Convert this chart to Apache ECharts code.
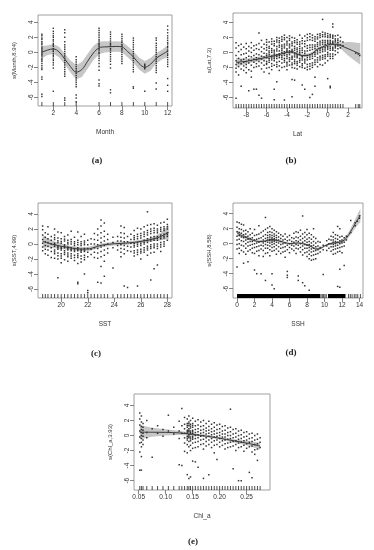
<!DOCTYPE html>
<html><head><meta charset="utf-8">
<script src="https://cdn.jsdelivr.net/npm/echarts@6/dist/echarts.min.js"></script>
<style>html,body{margin:0;padding:0;background:#fff}#c{width:374px;height:550px}</style>
</head><body><div id="c"></div>
<script>
// ---------- (a) Month ----------
const monthCols = [1,2,3,4,6,7,8,9,10,11,12];
const monthVals = [
 [2.4,2.2,1.9,1.7,1.4,1.2,1.0,0.7,0.5,0.3,0.1,-0.1,-0.3,-0.5,-0.8,-1.0,-1.2,-1.5,-1.8,-2.1,-2.3,-3.3,-3.6,-5.6,-5.9],
 [3.2,2.8,2.5,2.2,2.0,1.7,1.5,1.2,1.0,0.8,0.5,0.3,0.1,-0.2,-0.4,-0.6,-0.9,-1.1,-1.4,-1.7,-2.1,-5.2],
 [3.0,2.6,2.0,1.4,1.0,0.7,0.4,0.1,-0.2,-0.5,-0.8,-1.1,-1.4,-1.7,-2.0,-2.3,-2.6,-2.9,-3.2,-6.1,-6.4],
 [-0.6,-1.0,-1.3,-1.6,-1.9,-2.2,-2.5,-2.8,-3.1,-3.4,-3.7,-4.0,-4.3,-4.6,-5.7,-6.1,-6.6],
 [3.2,2.9,2.6,2.3,2.0,1.7,1.5,1.2,1.0,0.8,0.5,0.3,0.0,-0.2,-0.5,-0.8,-1.1,-1.5,-1.9,-2.4,-3.7,-4.2,-4.5],
 [2.7,2.4,2.1,1.8,1.5,1.2,1.0,0.8,0.5,0.3,0.0,-0.3,-0.6,-0.9,-1.2,-1.6,-2.1,-5.0,-5.4],
 [2.4,2.1,1.8,1.5,1.3,1.0,0.8,0.5,0.3,0.0,-0.3,-0.6,-0.9,-1.2,-1.5],
 [1.9,1.6,1.3,1.0,0.7,0.4,0.1,-0.2,-0.5,-0.8,-1.1,-1.4,-1.7,-2.0,-2.3,-2.6,-4.6,-4.8],
 [-1.6,-1.8,-2.0,-2.2,-5.2],
 [1.9,1.6,1.2,0.9,0.6,0.3,0.0,-0.3,-0.6,-0.9,-1.2,-1.5,-1.8,-2.1,-2.4,-2.7,-4.1,-4.9],
 [3.5,3.0,2.6,2.2,1.9,1.6,1.3,1.1,0.8,0.6,0.3,0.1,-0.2,-0.4,-0.7,-1.0,-1.3,-1.6,-1.9,-3.5,-4.4,-5.2]
];
const monthFitX = [1,1.5,2,2.5,3,3.5,4,4.5,5,5.5,6,6.5,7,7.5,8,8.5,9,9.5,10,10.5,11,11.5,12];
const monthFit  = [0.0,0.3,0.45,0.05,-0.9,-1.9,-2.65,-2.3,-1.2,-0.1,0.6,0.72,0.75,0.78,0.72,0.1,-0.6,-1.5,-2.0,-1.6,-0.8,-0.3,0.15];
const monthSe   = [0.8,0.65,0.65,0.7,0.7,0.8,0.95,1.0,1.0,0.95,0.85,0.75,0.7,0.7,0.7,0.75,0.75,0.8,0.85,0.85,0.7,0.65,0.8];
const monthTicks = [2,4,6,8,10,12];

// ---------- (b) Lat ----------
const latCols = [-9,-8.75,-8.5,-8.25,-8,-7.75,-7.5,-7.25,-7,-6.75,-6.5,-6.25,-6,-5.75,-5.5,-5.25,-5,-4.75,-4.5,-4.25,-4,-3.75,-3.5,-3.25,-3,-2.75,-2.5,-2.25,-2,-1.75,-1.5,-1.25,-1,-0.75,-0.5,-0.25,0,0.25,0.5,0.75,1,1.25,1.5,2.75,3,3.15];
const latVals = [
 [1.3,0.6,-0.4,-1.1,-1.6,-2.1,-2.6,-6.1],
 [0.9,0.1,-0.8,-1.4,-1.9,-3.0],
 [1.1,0.4,-0.3,-1.0,-1.5,-2.2,-4.5],
 [0.7,-0.2,-0.9,-1.3,-1.8,-2.4],
 [1.2,0.5,-0.1,-0.7,-1.2,-1.6,-2.0,-2.7],
 [0.8,0.2,-0.5,-1.0,-1.4,-2.3,-5.1],
 [1.3,0.6,0.0,-0.6,-1.1,-1.7,-2.5,-3.3],
 [0.9,0.3,-0.4,-0.9,-1.3,-2.0,-4.9],
 [1.0,0.5,-0.2,-0.7,-1.0,-1.5,-1.9,-4.9],
 [2.6,1.2,0.4,-0.3,-0.8,-1.2,-1.8,-5.7],
 [1.6,0.7,0.1,-0.5,-0.9,-1.4,-2.2,-6.1],
 [1.1,0.5,-0.1,-0.6,-1.1,-1.7,-2.6],
 [1.7,1.35,1.0,0.65,0.3,-0.2,-0.45,-0.7,-1.2,-1.45,-1.6,-2.1],
 [1.4,0.8,0.55,0.2,-0.05,-0.3,-0.8,-1.05,-1.3,-2.0,-2.8],
 [1.8,1.45,1.1,0.5,0.25,0.0,-0.5,-0.75,-1.0,-1.5,-1.85,-2.3],
 [1.5,1.15,0.9,0.3,0.05,-0.2,-0.6,-0.85,-1.1,-1.7,-4.9,-6.3],
 [2.0,1.65,1.4,0.8,0.45,0.2,-0.3,-0.55,-0.8,-1.3,-1.6,-1.9,-3.9],
 [1.9,1.55,1.3,0.95,0.7,0.2,-0.2,-0.45,-0.7,-1.2,-1.8,-2.4],
 [2.1,1.75,1.5,1.0,0.75,0.5,0.25,0.0,-0.4,-0.65,-0.9,-1.4,-2.0],
 [2.3,1.95,1.7,1.1,0.85,0.6,0.1,-0.15,-0.4,-0.8,-1.05,-1.3,-1.9,-6.35],
 [2.0,1.5,1.25,1.0,0.5,0.3,0.1,-0.3,-0.55,-0.8,-1.3,-1.55,-1.8,-2.3],
 [2.2,1.85,1.6,1.1,0.85,0.6,0.2,-0.05,-0.3,-0.7,-0.95,-1.2,-1.7],
 [2.0,1.4,1.15,0.9,0.4,0.2,0.0,-0.5,-0.7,-0.9,-1.4,-1.65,-2.0,-3.6,-5.9],
 [1.9,1.55,1.3,0.8,0.55,0.3,-0.1,-0.35,-0.6,-1.0,-1.25,-1.5,-2.1,-3.7],
 [1.7,1.35,1.1,0.6,0.35,0.1,-0.3,-0.5,-0.7,-1.2,-1.45,-1.7,-2.2],
 [2.3,1.4,1.1,0.8,0.5,0.2,-0.05,-0.3,-0.8,-1.05,-1.3,-1.9],
 [1.9,1.55,1.2,0.6,0.3,0.0,-0.5,-0.75,-1.0,-1.5,-1.75,-2.0,-4.35],
 [2.2,1.5,1.15,0.8,0.2,-0.1,-0.4,-0.9,-1.15,-1.4,-2.1,-4.9],
 [2.4,1.95,1.6,0.9,0.55,0.2,-0.4,-0.7,-1.0,-1.6,-1.95,-2.3],
 [2.5,2.1,1.7,1.0,0.65,0.3,-0.3,-0.6,-0.9,-1.5,-1.85,-2.2,-6.0],
 [2.3,1.95,1.6,1.0,0.7,0.4,-0.2,-0.5,-0.8,-1.4,-1.7,-2.0,-5.6],
 [2.1,1.8,1.5,1.0,0.75,0.5,0.0,-0.25,-0.5,-1.0,-1.3,-1.6,-3.3,-4.5],
 [2.4,2.05,1.8,1.3,1.05,0.8,0.3,0.05,-0.2,-0.7,-1.0,-1.3,-1.9],
 [2.5,2.25,2.0,1.5,1.25,1.0,0.5,0.25,0.0,-0.5,-0.75,-1.0,-1.6],
 [2.7,2.35,2.1,1.6,1.35,1.1,0.6,0.35,0.1,-0.4,-0.65,-0.9,-1.7,4.4],
 [2.6,2.35,2.1,1.6,1.35,1.1,0.7,0.45,0.2,-0.3,-0.55,-0.8,-1.4],
 [2.5,2.2,2.0,1.6,1.4,1.2,0.8,0.6,0.4,0.0,-0.25,-0.5,-1.1,-3.5],
 [2.4,2.2,2.0,1.6,1.4,1.2,0.8,0.55,0.3,-0.2,-0.5,-0.8,-4.5,-4.7],
 [2.3,2.1,1.9,1.5,1.3,1.1,0.7,0.5,0.3,-0.2,-0.5,-0.8,3.8,3.4],
 [2.2,1.8,1.6,1.4,1.0,0.8,0.6,0.2,-0.3],
 [2.3,1.8,1.55,1.3,0.9,0.5,0.0],
 [2.0,1.5,1.0,0.6],
 [1.4,0.9],
 [-0.1],[-0.2],[-0.4]
];
const latFitX = [-9,-8.5,-8,-7.5,-7,-6.5,-6,-5.5,-5,-4.5,-4,-3.5,-3,-2.5,-2,-1.5,-1,-0.5,0,0.5,1,1.5,2,2.5,3,3.2];
const latFit  = [-1.33,-1.25,-1.2,-1.05,-0.93,-0.8,-0.67,-0.5,-0.36,-0.18,0.0,0.08,-0.2,-0.42,-0.4,-0.13,0.44,0.75,1.0,1.1,1.05,0.78,0.5,0.2,-0.1,-0.2];
const latSe   = [0.6,0.45,0.35,0.3,0.3,0.28,0.25,0.25,0.22,0.2,0.2,0.2,0.2,0.22,0.22,0.22,0.2,0.2,0.2,0.22,0.3,0.55,0.9,1.15,1.35,1.45];
const latTicks = [-8,-6,-4,-2,0,2];

// ---------- (c) SST ----------
const sstCols = [18.6,18.8,19,19.25,19.5,19.75,20,20.25,20.5,20.75,21,21.25,21.5,21.75,22,22.25,22.5,22.75,23,23.25,23.5,23.9,24.25,24.5,24.75,25,25.25,25.5,25.75,26,26.25,26.5,26.75,27,27.25,27.5,27.75,28];
const sstVals = [
 [2.4,1.9,1.2,0.6,0.1,-0.4,-0.9],
 [1.5,0.9,0.3,-0.2,-0.7,-1.3],
 [2.3,1.3,0.7,0.2,-0.3,-0.8,-1.5],
 [1.0,0.5,0.0,-0.5,-1.0,-1.8],
 [2.0,1.2,0.85,0.6,0.1,-0.1,-0.3,-0.8,-1.05,-1.3,-1.9],
 [1.6,0.8,0.45,0.2,-0.3,-0.5,-0.7,-1.2,-1.55,-2.0,-4.5],
 [1.5,0.7,0.35,0.1,-0.4,-0.6,-0.8,-1.3,-1.6,-1.9,-2.5],
 [1.0,0.65,0.4,-0.1,-0.3,-0.5,-0.9,-1.15,-1.4,-2.1],
 [1.2,0.5,0.2,0.0,-0.4,-0.6,-0.8,-1.2,-1.45,-1.7,-2.3],
 [1.7,0.6,0.3,0.0,-0.5,-0.7,-0.9,-1.3,-1.6,-1.9],
 [0.9,0.3,0.05,-0.2,-0.6,-0.8,-1.0,-1.5,-1.8,-2.2],
 [1.6,0.5,0.2,-0.1,-0.5,-0.7,-0.9,-1.3,-1.55,-1.8,-2.6,-5.1,-5.3],
 [1.0,0.3,0.05,-0.2,-0.7,-0.9,-1.1,-1.6,-1.95,-2.4],
 [1.3,0.4,0.15,-0.1,-0.6,-0.8,-1.0,-1.5,-1.8,-2.1,-4.0],
 [0.5,-0.1,-0.6,-1.1,-1.7,-6.2,-6.5],
 [0.7,0.0,-0.7,-1.4],
 [1.4,0.6,0.0,-0.5,-1.1,-1.8],
 [2.0,1.2,0.5,-0.1,-0.6,-1.2,-1.9,-5.1],
 [3.2,2.4,1.5,0.8,0.2,-0.4,-1.0,-1.7,-3.0,-5.2],
 [2.8,1.7,1.0,0.4,-0.2,-0.8,-1.5,-2.3,-4.3],
 [1.3,0.6,0.0,-0.6,-1.2],
 [0.9,0.2,-0.5,-3.2],
 [1.0,0.4,-0.2,-0.8],
 [2.4,1.5,0.9,0.4,-0.1,-0.6,-1.1,-1.7],
 [2.2,1.4,0.8,0.3,-0.2,-0.7,-1.3,-5.6],
 [1.0,0.3,-0.3,-0.9,-5.8],
 [1.3,0.6,0.1,-0.4,-1.0],
 [1.8,1.1,0.85,0.6,0.1,-0.15,-0.4,-0.9,-1.2,-1.6],
 [2.1,1.3,1.0,0.7,0.2,-0.05,-0.3,-0.8,-1.1,-1.4,-5.6],
 [2.0,1.4,1.1,0.8,0.3,0.05,-0.2,-0.7,-0.95,-1.2,-2.0],
 [2.3,1.6,1.3,1.0,0.5,0.25,0.0,-0.5,-0.8,-1.1],
 [2.5,1.8,1.5,1.2,0.7,0.45,0.2,-0.3,-0.55,-0.8,-1.5,4.3],
 [2.6,2.0,1.7,1.4,0.9,0.65,0.4,-0.1,-0.35,-0.6,-1.2,-4.8],
 [2.7,2.1,1.8,1.5,1.0,0.75,0.5,0.0,-0.25,-0.5,-1.1,-3.3],
 [2.5,2.0,1.75,1.5,1.0,0.75,0.5,0.0,-0.3,-0.6,-2.8],
 [2.8,2.2,1.95,1.7,1.2,0.95,0.7,0.2,-0.1,-0.4,-1.0],
 [2.9,2.3,2.05,1.8,1.3,1.05,0.8,0.3,0.0,-0.3],
 [3.3,2.6,2.3,2.0,1.5,1.25,1.0,0.5]
];
const sstFitX = [18.6,19,19.5,20,20.5,21,21.5,22,22.5,23,23.5,24,24.5,25,25.5,26,26.5,27,27.5,28,28.1];
const sstFit  = [0.35,0.13,-0.1,-0.3,-0.45,-0.6,-0.67,-0.67,-0.45,-0.18,-0.05,0.04,0.08,0.13,0.22,0.35,0.5,0.7,1.0,1.47,1.55];
const sstSe   = [0.85,0.6,0.45,0.35,0.3,0.28,0.28,0.28,0.28,0.25,0.25,0.25,0.25,0.22,0.22,0.22,0.25,0.3,0.5,0.85,0.9];
const sstTicks = [20,22,24,26,28];

// ---------- (d) SSH ----------
const sshCols = [0,0.25,0.5,0.75,1,1.25,1.5,1.75,2,2.25,2.5,2.75,3,3.25,3.5,3.75,4,4.25,4.5,4.75,5,5.25,5.5,5.75,6,6.25,6.5,6.75,7,7.25,7.5,7.75,8,8.25,8.5,8.75,9,9.25,9.5,9.85,10.25,10.5,10.75,11,11.25,11.5,11.75,12,12.25,12.5,13,13.5,13.75,14];
const sshVals = [
 [2.9,2.2,1.6,1.0,0.5,-0.1,-0.7,-3.1],
 [2.8,2.0,1.5,1.1,0.6,0.0,-0.6,-1.3],
 [2.6,1.9,1.4,0.9,0.4,-0.2,-0.9],
 [2.5,1.7,1.2,0.8,0.3,-0.3,-1.1,-2.6],
 [1.8,1.3,0.9,0.5,0.0,-0.6,-1.4],
 [1.6,1.0,0.6,0.2,-0.3,-1.0,-2.4],
 [2.0,1.2,0.7,0.3,-0.2,-0.8],
 [1.4,0.8,0.3,-0.1,-0.6,-1.2],
 [1.9,1.1,0.5,0.0,-0.5,-1.3,-3.5],
 [1.2,0.6,0.1,-0.4,-1.0,-4.0],
 [2.4,1.3,0.7,0.2,-0.3,-0.9,-1.6],
 [1.5,0.8,0.3,-0.2,-0.7,-4.0],
 [1.7,1.0,0.5,0.1,-0.3,-0.9,-1.7],
 [3.5,1.9,1.2,0.7,0.3,-0.1,-0.6,-1.3,-4.9],
 [2.1,1.5,1.1,0.8,0.5,0.2,-0.2,-0.6,-1.2],
 [2.3,1.6,1.2,0.9,0.6,0.4,0.1,-0.3,-0.8,-1.6],
 [2.0,1.5,1.1,0.8,0.6,0.4,0.2,-0.1,-0.5,-1.0,-4.0,-5.5],
 [1.8,1.3,1.0,0.7,0.5,0.3,0.0,-0.4,-0.9,-6.0],
 [1.6,1.1,0.8,0.5,0.2,-0.2,-0.7,-1.4],
 [1.4,0.9,0.5,0.1,-0.4,-1.0],
 [1.2,0.7,0.3,-0.1,-0.6,-1.3],
 [1.0,0.5,0.0,-0.5,-1.1],
 [1.3,0.6,0.1,-0.4,-1.0,-1.8],
 [0.9,0.4,-0.2,-0.8,-3.7,-4.2,-4.5],
 [1.1,0.5,0.0,-0.5,-1.2],
 [0.8,0.3,-0.2,-0.7],
 [1.4,0.7,0.2,-0.3,-0.9],
 [1.6,0.9,0.4,-0.1,-0.6,-1.3],
 [1.5,0.8,0.3,-0.2,-0.7,-4.3,-4.9],
 [1.8,1.0,0.5,0.0,-0.5,-1.1],
 [3.7,1.3,0.7,0.2,-0.3,-0.8,-1.5,-5.2],
 [1.5,0.9,0.4,-0.1,-0.6,-1.2,-5.6],
 [1.9,1.2,0.6,0.2,-0.2,-0.6,-1.1,-1.7],
 [1.4,0.8,0.3,-0.1,-0.5,-0.9,-1.4,-2.0,-6.2],
 [1.2,0.6,0.1,-0.3,-0.7,-1.1,-1.6,-2.2],
 [2.0,0.9,0.3,-0.2,-0.6,-1.0,-1.5,-2.1],
 [0.7,0.1,-0.4,-0.9,-1.4,-2.0],
 [0.3,-0.3,-0.8,-1.3],
 [0.2,-0.5,-1.1],
 [-0.2,-0.8,-4.1],
 [0.4,-0.3,-0.9],
 [0.6,0.0,-0.6],
 [1.0,0.5,0.0,-0.4,-1.0],
 [1.5,0.9,0.5,0.2,-0.1,-0.4,-0.8,-1.4],
 [1.2,0.7,0.3,0.0,-0.3,-0.7,-1.3],
 [2.3,1.1,0.6,0.2,-0.2,-0.6,-1.1,-5.7],
 [2.0,0.9,0.4,0.0,-0.5,-1.0,-3.4,-5.8],
 [1.0,0.5,0.1,-0.4,-1.2],
 [0.8,0.2,-0.3,-2.9],
 [1.0,0.5],
 [1.5,3.1],
 [2.4,2.8],
 [3.0],
 [3.4,3.7]
];
const sshFitX = [0,0.5,1,1.5,2,2.5,3,3.5,4,4.5,5,5.5,6,6.5,7,7.5,8,8.5,9,9.5,10,10.5,11,11.5,12,12.5,13,13.5,14,14.1];
const sshFit  = [1.44,1.1,0.85,0.6,0.4,0.3,0.3,0.45,0.55,0.45,0.3,0.15,0.0,0.05,0.1,0.0,-0.13,-0.4,-0.7,-0.65,-0.3,-0.05,0.1,0.15,0.3,0.75,1.65,2.65,3.6,3.75];
const sshSe   = [0.35,0.25,0.2,0.15,0.15,0.12,0.12,0.12,0.12,0.12,0.12,0.12,0.12,0.12,0.12,0.12,0.12,0.15,0.15,0.15,0.15,0.15,0.15,0.15,0.2,0.3,0.45,0.6,0.85,0.95];
const sshRugRanges = [[0,9.5],[10.4,12.4]];
const sshRugSparse = [9.6,9.75,9.9,10.05,10.2,12.75,12.95,13.15,13.4,13.6,13.8,14.1];
const sshTicks = [0,2,4,6,8,10,12,14];

// ---------- (e) Chl_a ----------
const chlCols = [0.052,0.055,0.058,0.065,0.075,0.085,0.095,0.105,0.115,0.125,0.13,0.135,0.14,0.143,0.146,0.15,0.155,0.16,0.165,0.17,0.175,0.18,0.185,0.19,0.195,0.2,0.205,0.21,0.215,0.22,0.225,0.23,0.235,0.24,0.245,0.25,0.255,0.26,0.265,0.27,0.275];
const chlVals = [
 [3.0,2.2,1.4,0.6,-0.2,-1.0,-2.2,-4.6],
 [2.6,1.8,1.2,0.8,0.4,0.0,-0.4,-0.9,-1.5,-2.8,-4.6],
 [1.6,1.1,0.7,0.3,-0.1,-0.6,-1.2],
 [2.0,0.4,-0.3],
 [0.9,-2.9],
 [1.3,0.3],
 [0.8,-0.1],
 [2.7,0.6],
 [1.1,0.2],
 [1.9,0.6,-0.4,-3.9],
 [3.6,1.3,0.3,-4.0],
 [2.4,1.5,0.9,0.3,-0.3,-1.0,-2.1],
 [2.2,1.6,1.35,1.1,0.7,0.5,0.3,-0.1,-0.35,-0.6,-1.2,-2.3,-5.2],
 [2.6,1.8,1.55,1.3,0.9,0.7,0.5,0.1,-0.1,-0.3,-0.8,-1.5,-5.7],
 [2.0,1.5,1.25,1.0,0.6,0.4,0.2,-0.2,-0.45,-0.7,-1.3,-2.0,-5.5],
 [2.3,1.6,1.35,1.1,0.7,0.5,0.3,-0.1,-0.3,-0.5,-1.0,-1.7,-3.4],
 [1.9,1.3,0.8,0.4,0.0,-0.4,-0.9,-1.6,-3.5],
 [2.1,1.4,0.9,0.5,0.1,-0.3,-0.8,-1.5,-4.2],
 [1.8,1.2,0.7,0.3,-0.1,-0.6,-1.2],
 [2.0,1.3,0.8,0.4,0.0,-0.5,-1.1,-1.8,-5.7],
 [1.6,1.0,0.6,0.2,-0.3,-0.8,-1.4],
 [1.9,1.2,0.7,0.3,-0.1,-0.6,-1.2,-5.2],
 [1.5,0.9,0.5,0.1,-0.4,-0.9,-1.6],
 [1.7,1.1,0.6,0.2,-0.2,-0.7,-1.3,-2.3],
 [1.4,0.8,0.3,-0.1,-0.6,-1.2,-3.2],
 [1.5,0.9,0.4,0.0,-0.4,-0.9,-1.5],
 [1.2,0.6,0.2,-0.2,-0.7,-1.3],
 [1.3,0.7,0.2,-0.2,-0.6,-1.1,-1.8],
 [1.0,0.4,0.0,-0.5,-1.0,-1.6],
 [1.1,0.5,0.0,-0.4,-0.9,-1.5,3.5],
 [0.8,0.2,-0.3,-0.8,-1.4,-4.4],
 [0.9,0.3,-0.2,-0.7,-1.2,-2.0],
 [0.6,0.0,-0.5,-1.0,-1.6,-6.0],
 [0.7,0.1,-0.4,-0.9,-1.5,-6.0],
 [0.4,-0.2,-0.7,-1.3,-2.1],
 [0.5,-0.1,-0.6,-1.1,-1.7],
 [0.2,-0.4,-0.9,-1.5,-4.9],
 [0.3,-0.3,-0.8,-1.4,-2.2,-5.6],
 [0.0,-0.6,-1.2,-1.9,-2.5],
 [0.2,-0.5,-1.1,-1.8,-3.3],
 [-0.3,-0.9,-1.6]
];
const chlFitX = [0.052,0.075,0.1,0.125,0.15,0.175,0.2,0.225,0.25,0.275];
const chlFit  = [0.45,0.44,0.42,0.35,0.15,-0.08,-0.36,-0.68,-1.0,-1.4];
const chlSe   = [0.95,0.6,0.4,0.28,0.18,0.15,0.15,0.2,0.3,0.45];
const chlTicks = [0.05,0.10,0.15,0.20,0.25];

// ---------- layout / build ----------
const TXT = '#333', FONT = 'Liberation Sans';
const panels = [
 {grid:{left:38,top:15,width:134,height:91}, xr:[0.66,12.38], yr:[-7.16,4.97], xname:'Month', yname:'s(Month,8.94)',
  cols:monthCols, vals:monthVals, fx:monthFitX, fit:monthFit, se:monthSe, rug:monthCols, ticks:monthTicks, cap:'(a)', capPos:[97,161], ps:1.4},
 {grid:{left:233,top:13,width:129,height:95}, xr:[-9.3,3.37], yr:[-7.41,5.25], xname:'Lat', yname:'s(Lat,7.3)',
  cols:latCols, vals:latVals, fx:latFitX, fit:latFit, se:latSe, rug:latCols, ticks:latTicks, cap:'(b)', capPos:[291,161], ps:1.5},
 {grid:{left:38,top:203,width:134,height:95}, xr:[18.25,28.35], yr:[-7.2,5.47], xname:'SST', yname:'s(SST,4.99)',
  cols:sstCols, vals:sstVals, fx:sstFitX, fit:sstFit, se:sstSe, rug:sstCols, ticks:sstTicks, cap:'(c)', capPos:[96,354], ps:1.5},
 {grid:{left:233,top:203,width:130,height:95}, xr:[-0.46,14.4], yr:[-7.24,5.43], xname:'SSH', yname:'s(SSH,8.58)',
  cols:sshCols, vals:sshVals, fx:sshFitX, fit:sshFit, se:sshSe, rug:sshRugSparse, ranges:sshRugRanges, ticks:sshTicks, cap:'(d)', capPos:[291,353], ps:1.5},
 {grid:{left:134,top:394,width:136,height:96}, xr:[0.0413,0.2933], yr:[-7.24,5.52], xname:'Chl_a', yname:'s(Chl_a,3.93)',
  cols:chlCols, vals:chlVals, fx:chlFitX, fit:chlFit, se:chlSe, rug:chlCols, ticks:chlTicks, fmt:v=>v.toFixed(2), cap:'(e)', capPos:[193,542], ps:1.5}
];
const yTicks = [-6,-4,-2,0,2,4];

const grids=[], xAxes=[], yAxes=[], series=[], graphics=[];
panels.forEach((p,i)=>{
  grids.push(Object.assign({show:true, borderColor:'#888', borderWidth:0.8, backgroundColor:'transparent', containLabel:false}, p.grid));
  xAxes.push({gridIndex:i, type:'value', position:'bottom', min:p.xr[0], max:p.xr[1], name:p.xname, nameLocation:'middle', nameGap:23,
    nameTextStyle:{fontSize:6.5, color:TXT, fontFamily:FONT},
    axisLine:{show:false, onZero:false}, splitLine:{show:false},
    axisTick:{show:true, customValues:p.ticks, length:4, lineStyle:{color:'#666', width:0.8}},
    axisLabel:{customValues:p.ticks, fontSize:6.5, color:TXT, fontFamily:FONT, margin:4, formatter:p.fmt || (v=>String(v))}});
  yAxes.push({gridIndex:i, type:'value', position:'left', min:p.yr[0], max:p.yr[1], name:p.yname, nameLocation:'middle', nameGap:21, nameRotate:90,
    nameTextStyle:{fontSize:6, color:TXT, fontFamily:FONT},
    axisLine:{show:false, onZero:false}, splitLine:{show:false},
    axisTick:{show:true, customValues:yTicks, length:4, lineStyle:{color:'#666', width:0.8}},
    axisLabel:{customValues:yTicks, rotate:90, fontSize:6.5, color:TXT, fontFamily:FONT, margin:3}});
  // confidence band
  series.push({type:'custom', xAxisIndex:i, yAxisIndex:i, silent:true, z:1, data:[[p.fx[0], p.fit[0]]],
    renderItem:(params, api)=>{
      const pts=[];
      for(let k=0;k<p.fx.length;k++) pts.push(api.coord([p.fx[k], p.fit[k]+p.se[k]]));
      for(let k=p.fx.length-1;k>=0;k--) pts.push(api.coord([p.fx[k], p.fit[k]-p.se[k]]));
      return {type:'polygon', shape:{points:pts}, style:{fill:'#c6c6c6'}};
    }});
  // partial residuals
  const pts=[];
  p.cols.forEach((x,k)=>p.vals[k].forEach(y=>pts.push([x,y])));
  series.push({type:'scatter', xAxisIndex:i, yAxisIndex:i, data:pts, symbol:'rect', symbolSize:p.ps, z:2, silent:true,
    itemStyle:{color:'#000'}});
  // smooth fit
  series.push({type:'line', xAxisIndex:i, yAxisIndex:i, data:p.fx.map((x,k)=>[x,p.fit[k]]), smooth:0.35, showSymbol:false, z:3, silent:true,
    lineStyle:{color:'#3a3a3a', width:1}});
  // rug
  series.push({type:'custom', xAxisIndex:i, yAxisIndex:i, silent:true, z:4, data:p.rug.map(v=>[v,p.yr[0]]),
    renderItem:(params, api)=>{
      const c=api.coord([api.value(0), api.value(1)]);
      return {type:'line', shape:{x1:c[0],y1:c[1],x2:c[0],y2:c[1]-4}, style:{stroke:'#000', lineWidth:0.7}};
    }});
  if(p.ranges){
    series.push({type:'custom', xAxisIndex:i, yAxisIndex:i, silent:true, z:4, data:p.ranges.map(r=>[r[0],r[1],p.yr[0]]),
      encode:{x:[0,1], y:2},
      renderItem:(params, api)=>{
        const a=api.coord([api.value(0), api.value(2)]), b=api.coord([api.value(1), api.value(2)]);
        return {type:'rect', shape:{x:a[0], y:a[1]-4, width:b[0]-a[0], height:4}, style:{fill:'#000'}};
      }});
  }
  graphics.push({type:'text', x:p.capPos[0], y:p.capPos[1], style:{text:p.cap, align:'center', verticalAlign:'middle',
    font:'bold 9px "Liberation Serif"', fill:'#222'}});
});

const chart = echarts.init(document.getElementById('c'), null, {renderer:'canvas'});
chart.setOption({animation:false, backgroundColor:'#fff', grid:grids, xAxis:xAxes, yAxis:yAxes, series:series, graphic:graphics});
</script></body></html>
